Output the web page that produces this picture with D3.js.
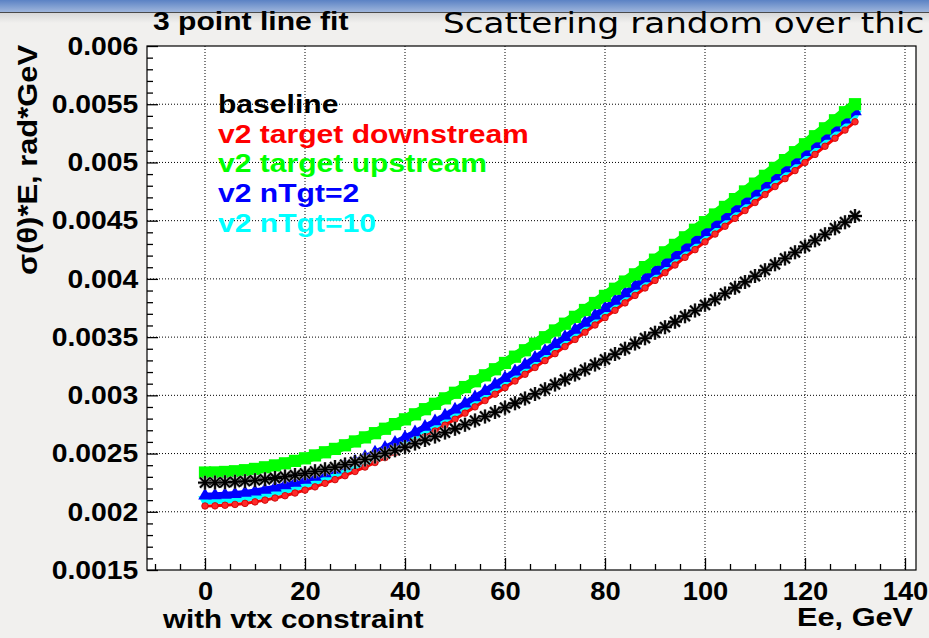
<!DOCTYPE html>
<html>
<head>
<meta charset="utf-8">
<script src="https://cdn.jsdelivr.net/npm/d3@7"></script>
<style>
body { margin: 0; background: #f1f0ee; overflow: hidden; }
text { font-family: "Liberation Sans", Arial, Helvetica, sans-serif; font-weight: bold; }
</style>
</head>
<body>
<div id="chart"></div>
<script>
// beam energy, GeV
var energy = [0,2,4,6,8,10,12,14,16,18,20,22,24,26,28,30,32,34,36,38,40,42,44,46,48,50,52,54,56,58,60,62,64,66,68,70,72,74,76,78,80,82,84,86,88,90,92,94,96,98,100,102,104,106,108,110,112,114,116,118,120,122,124,126,128,130];

// sigma(theta)*E, in units of 1e-3 rad*GeV
var baseline = [2.250,2.251,2.253,2.257,2.263,2.270,2.279,2.290,2.302,2.315,2.330,2.347,2.365,2.384,2.405,2.427,2.450,2.475,2.501,2.528,2.556,2.586,2.616,2.647,2.680,2.713,2.748,2.783,2.819,2.856,2.894,2.932,2.972,3.012,3.052,3.094,3.136,3.178,3.221,3.265,3.309,3.354,3.399,3.445,3.491,3.538,3.585,3.632,3.680,3.728,3.777,3.825,3.875,3.924,3.974,4.024,4.075,4.125,4.176,4.228,4.279,4.331,4.383,4.435,4.487,4.540];
var downstream = [2.050,2.051,2.056,2.063,2.072,2.085,2.100,2.118,2.138,2.161,2.186,2.214,2.244,2.276,2.310,2.346,2.384,2.423,2.465,2.508,2.552,2.598,2.645,2.694,2.744,2.795,2.847,2.901,2.955,3.010,3.066,3.123,3.181,3.239,3.298,3.358,3.419,3.480,3.542,3.604,3.667,3.730,3.794,3.858,3.922,3.987,4.053,4.119,4.185,4.251,4.318,4.385,4.452,4.520,4.587,4.656,4.724,4.793,4.861,4.930,5.000,5.069,5.139,5.208,5.278,5.349];
var upstream = [2.337,2.338,2.342,2.348,2.357,2.368,2.382,2.398,2.416,2.437,2.459,2.484,2.511,2.540,2.571,2.604,2.639,2.675,2.713,2.753,2.794,2.837,2.881,2.927,2.974,3.022,3.071,3.121,3.172,3.224,3.278,3.332,3.387,3.443,3.499,3.557,3.615,3.674,3.733,3.793,3.854,3.915,3.977,4.039,4.101,4.165,4.228,4.292,4.357,4.422,4.487,4.553,4.618,4.685,4.751,4.818,4.885,4.953,5.020,5.088,5.156,5.225,5.293,5.362,5.431,5.500];
var nTgt2 = [2.140,2.141,2.146,2.152,2.162,2.174,2.189,2.207,2.227,2.249,2.274,2.301,2.331,2.362,2.396,2.431,2.469,2.508,2.549,2.592,2.636,2.682,2.729,2.777,2.827,2.878,2.930,2.983,3.037,3.092,3.148,3.205,3.262,3.321,3.380,3.440,3.500,3.562,3.623,3.686,3.749,3.812,3.876,3.940,4.005,4.070,4.136,4.202,4.268,4.335,4.402,4.470,4.537,4.605,4.674,4.742,4.811,4.880,4.949,5.019,5.088,5.158,5.228,5.299,5.369,5.440];
var nTgt10 = [2.100,2.101,2.106,2.113,2.122,2.135,2.150,2.168,2.188,2.211,2.236,2.263,2.293,2.325,2.359,2.395,2.432,2.472,2.513,2.556,2.601,2.647,2.694,2.743,2.793,2.844,2.896,2.949,3.004,3.059,3.115,3.173,3.230,3.289,3.348,3.409,3.469,3.531,3.593,3.655,3.718,3.782,3.846,3.910,3.975,4.040,4.106,4.172,4.239,4.305,4.373,4.440,4.508,4.576,4.644,4.713,4.781,4.850,4.920,4.989,5.059,5.129,5.199,5.269,5.339,5.410];

var xTicks = [0,20,40,60,80,100,120,140];
var xTickLabels = ["0","20","40","60","80","100","120","140"];
var yTicks = [1.5,2,2.5,3,3.5,4,4.5,5,5.5,6];
var yTickLabels = ["0.0015","0.002","0.0025","0.003","0.0035","0.004","0.0045","0.005","0.0055","0.006"];

var legendNames = ["baseline","v2 target downstream","v2 target upstream","v2 nTgt=2","v2 nTgt=10"];

var width = 929, height = 638;
var frame = {left: 147, right: 916, top: 46, bottom: 570};
var stretch = 1.18;   // slide picture is a bit wider than tall

var x = d3.scaleLinear().domain([-11.6, 142.2]).range([frame.left, frame.right]);
var y = d3.scaleLinear().domain([1.5, 6]).range([frame.bottom, frame.top]);

var svg = d3.select("#chart").append("svg")
    .attr("width", width)
    .attr("height", height);

// slide header strip
var defs = svg.append("defs");
var grad = defs.append("linearGradient").attr("id", "head").attr("x1", 0).attr("y1", 0).attr("x2", 0).attr("y2", 1);
grad.append("stop").attr("offset", "0%").attr("stop-color", "#5b82c4");
grad.append("stop").attr("offset", "100%").attr("stop-color", "#9fb6dc");
var grad2 = defs.append("linearGradient").attr("id", "fade").attr("x1", 0).attr("y1", 0).attr("x2", 0).attr("y2", 1);
grad2.append("stop").attr("offset", "0%").attr("stop-color", "#d8d8d8");
grad2.append("stop").attr("offset", "100%").attr("stop-color", "#f1f0ee");

svg.append("rect").attr("width", width).attr("height", height).attr("fill", "#f1f0ee");
svg.append("rect").attr("x", 0).attr("y", 13).attr("width", width).attr("height", 10).attr("fill", "url(#fade)");
svg.append("rect").attr("x", 0).attr("y", 0).attr("width", width).attr("height", 12).attr("fill", "url(#head)");
svg.append("line").attr("x1", 0).attr("x2", width).attr("y1", 12.5).attr("y2", 12.5)
    .attr("stroke", "#4a4a4a").attr("stroke-width", 1);

// plot frame
svg.append("rect")
    .attr("x", frame.left).attr("y", frame.top)
    .attr("width", frame.right - frame.left).attr("height", frame.bottom - frame.top)
    .attr("fill", "#fff");

// dotted grid
svg.append("g").selectAll("line.vgrid")
    .data(xTicks).enter().append("line")
    .attr("x1", function(d) { return x(d); }).attr("x2", function(d) { return x(d); })
    .attr("y1", frame.top).attr("y2", frame.bottom)
    .attr("stroke", "#000").attr("stroke-width", 1).attr("stroke-dasharray", "1,2");
svg.append("g").selectAll("line.hgrid")
    .data(yTicks.slice(1, -1)).enter().append("line")
    .attr("y1", function(d) { return y(d); }).attr("y2", function(d) { return y(d); })
    .attr("x1", frame.left).attr("x2", frame.right)
    .attr("stroke", "#000").attr("stroke-width", 1).attr("stroke-dasharray", "1,2");

// axes, ticks pointing inward like ROOT
var xMinor = d3.range(-10, 141, 5).filter(function(v) { return v % 20 != 0; });
var yMinor = d3.range(15, 61, 1).map(function(v) { return v / 10; }).filter(function(v) { return Math.round(v * 10) % 5 != 0; });

var xAxis = svg.append("g").attr("transform", "translate(0," + frame.bottom + ")")
    .call(d3.axisBottom(x).tickValues(xTicks).tickSizeInner(-12).tickSizeOuter(0).tickPadding(12)
        .tickFormat(function(d, i) { return xTickLabels[i]; }));
svg.append("g").attr("transform", "translate(0," + frame.bottom + ")")
    .call(d3.axisBottom(x).tickValues(xMinor).tickSizeInner(-6).tickSizeOuter(0).tickFormat(""));
var yAxis = svg.append("g").attr("transform", "translate(" + frame.left + ",0)")
    .call(d3.axisLeft(y).tickValues(yTicks).tickSizeInner(-11).tickSizeOuter(0).tickPadding(8)
        .tickFormat(function(d, i) { return yTickLabels[i]; }));
svg.append("g").attr("transform", "translate(" + frame.left + ",0)")
    .call(d3.axisLeft(y).tickValues(yMinor).tickSizeInner(-6).tickSizeOuter(0).tickFormat(""));

svg.selectAll(".domain").remove();
svg.selectAll(".tick line").attr("stroke", "#000").attr("stroke-width", 1.3);
xAxis.selectAll("text")
    .attr("font-size", 26).attr("fill", "#000")
    .attr("transform", "scale(1.05,1)");
yAxis.selectAll("text")
    .attr("font-size", 26).attr("fill", "#000")
    .attr("transform", "scale(1.09,1)");

svg.append("rect")
    .attr("x", frame.left).attr("y", frame.top)
    .attr("width", frame.right - frame.left).attr("height", frame.bottom - frame.top)
    .attr("fill", "none").attr("stroke", "#000").attr("stroke-width", 1.2);

// series
function pts(vals) { return vals.map(function(v, i) { return [energy[i], v]; }); }
var line = d3.line().x(function(d) { return x(d[0]); }).y(function(d) { return y(d[1]); });

var starPath = "M-7,0L7,0M0,-7L0,7M-5,-5L5,5M-5,5L5,-5";
var series = [
    {name: "nTgt10", vals: nTgt10, color: "#00ffff", lw: 8, mark: d3.symbol().type(d3.symbolTriangle).size(80)(), rot: 180},
    {name: "nTgt2", vals: nTgt2, color: "#0000ff", lw: 6, mark: d3.symbol().type(d3.symbolTriangle).size(80)(), rot: 0},
    {name: "downstream", vals: downstream, color: "#ff0000", lw: 3, mark: d3.symbol().type(d3.symbolCircle).size(34)(), rot: 0},
    {name: "upstream", vals: upstream, color: "#00ff00", lw: 10, mark: d3.symbol().type(d3.symbolSquare).size(150)(), rot: 0},
    {name: "baseline", vals: baseline, color: "#000", lw: 5, mark: starPath, rot: 0, star: true}
];

series.forEach(function(s) {
    var g = svg.append("g").attr("class", "series-" + s.name);
    g.append("path").datum(pts(s.vals))
        .attr("d", line).attr("fill", "none")
        .attr("stroke", s.color).attr("stroke-width", s.lw);
    if (s.star) {
        // soft grey rim like the anti-aliased ROOT stars
        g.selectAll("path.halo").data(pts(s.vals)).enter().append("path")
            .attr("class", "halo")
            .attr("d", s.mark)
            .attr("transform", function(d) { return "translate(" + x(d[0]) + "," + y(d[1]) + ")"; })
            .attr("fill", "none").attr("stroke", "#9a9a9a").attr("stroke-width", 3);
    }
    var m = g.selectAll("path.mark").data(pts(s.vals)).enter().append("path")
        .attr("class", "mark")
        .attr("d", s.mark)
        .attr("transform", function(d) { return "translate(" + x(d[0]) + "," + y(d[1]) + ") rotate(" + s.rot + ")"; });
    if (s.star) {
        m.attr("fill", "none").attr("stroke", s.color).attr("stroke-width", 1.8);
    } else if (s.name == "downstream") {
        m.attr("fill", "#ff2a2a").attr("stroke", "#c00000").attr("stroke-width", 0.8);
    } else {
        m.attr("fill", s.color);
    }
});

// legend text only
var legendColors = ["#000", "#ff0000", "#00ff00", "#0000ff", "#00ffff"];
svg.append("g").selectAll("text.leg")
    .data(legendNames).enter().append("text")
    .attr("class", "leg")
    .attr("transform", function(d, i) { return "translate(218," + (113 + i * 29.7) + ") scale(" + stretch + ",1)"; })
    .attr("font-size", 25.5)
    .attr("fill", function(d, i) { return legendColors[i]; })
    .text(function(d) { return d; });

// titles
svg.append("text")
    .attr("transform", "translate(153,30) scale(" + stretch + ",1)")
    .attr("font-size", 25.5)
    .text("3 point line fit");

svg.append("text")
    .attr("transform", "translate(443,33) scale(" + stretch + ",1)")
    .attr("font-size", 29)
    .style("font-family", "'Comic Sans MS', 'DejaVu Sans', sans-serif")
    .style("font-weight", "normal")
    .text("Scattering random over thic");

svg.append("text")
    .attr("transform", "translate(163,628) scale(" + stretch + ",1)")
    .attr("font-size", 25)
    .text("with vtx constraint");

svg.append("text")
    .attr("transform", "translate(913,626) scale(" + stretch + ",1)")
    .attr("font-size", 26)
    .attr("text-anchor", "end")
    .text("Ee, GeV");

svg.append("text")
    .attr("transform", "translate(37,45) rotate(-90)")
    .attr("font-size", 27)
    .attr("text-anchor", "end")
    .attr("textLength", 230)
    .attr("lengthAdjust", "spacingAndGlyphs")
    .text("σ(θ)*E, rad*GeV");
</script>
</body>
</html>
